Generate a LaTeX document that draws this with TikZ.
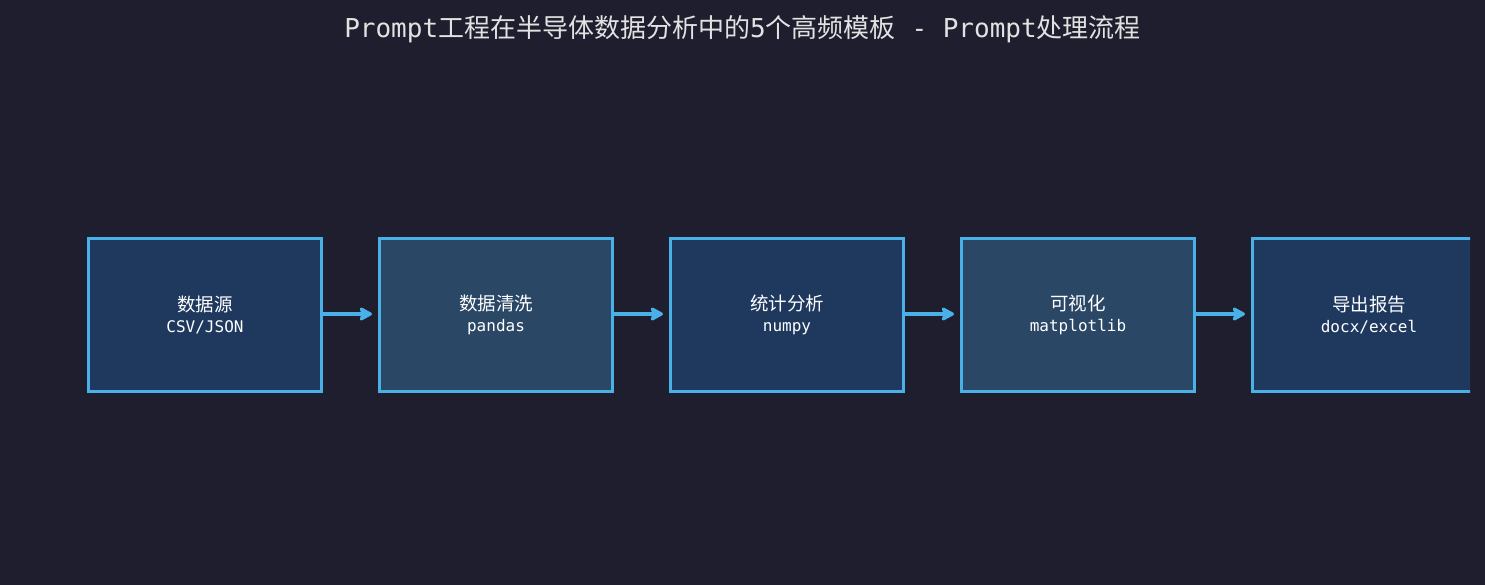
\documentclass[tikz,border=0pt]{standalone}
\usepackage{fontspec}
\setmainfont{DejaVu Sans Mono}
\newfontfamily\cjkfont{Noto Sans CJK SC}
\usetikzlibrary{arrows.meta}
\definecolor{bgc}{HTML}{1E1E2E}
\definecolor{boxa}{HTML}{1E385E}
\definecolor{boxb}{HTML}{2A4766}
\definecolor{edgec}{HTML}{4AB0E8}
\definecolor{titlec}{HTML}{E2E2E2}
\newcommand{\zh}[1]{{\cjkfont #1}}
\newcommand{\boxtext}[2]{{\cjkfont\fontsize{18.5}{21}\selectfont #1}\\{\fontsize{16}{21}\selectfont #2}}
\tikzset{
  stagebox/.style={draw=edgec, line width=3pt, minimum width=233pt, minimum height=153pt,
    align=center, text=white, font=\fontsize{16}{21}\selectfont, inner sep=0pt},
  darkbox/.style={stagebox, fill=boxa},
  lightbox/.style={stagebox, fill=boxb},
  flowarrow/.style={draw=edgec, line width=4pt, -{Stealth[length=15pt,width=16pt,inset=3pt,round]}, shorten >=6pt}
}
\begin{document}
\begin{tikzpicture}[x=1pt,y=-1pt]
\fill[bgc] (0,0) rectangle (1485,585);
\useasboundingbox (0,0) rectangle (1485,585);
\node[anchor=base, text=titlec, font=\fontsize{26}{30}\selectfont] (title) at (742.5,38)
  {Prompt\zh{工程在半导体数据分析中的}5\zh{个高频模板} - Prompt\zh{处理流程}};
\begin{scope}
\clip (0,0) rectangle (1470,585);
\node[darkbox]  (s1) at (205,315)  {\boxtext{数据源}{CSV/JSON}};
\node[lightbox] (s2) at (496,315)  {\boxtext{数据清洗}{pandas}};
\node[darkbox]  (s3) at (787,315)  {\boxtext{统计分析}{numpy}};
\node[lightbox] (s4) at (1078,315) {\boxtext{可视化}{matplotlib}};
\node[darkbox]  (s5) at (1369,315) {\boxtext{导出报告}{docx/excel}};
\draw[flowarrow] ([yshift=1pt]s1.east) -- ([yshift=1pt]s2.west);
\draw[flowarrow] ([yshift=1pt]s2.east) -- ([yshift=1pt]s3.west);
\draw[flowarrow] ([yshift=1pt]s3.east) -- ([yshift=1pt]s4.west);
\draw[flowarrow] ([yshift=1pt]s4.east) -- ([yshift=1pt]s5.west);
\end{scope}
\end{tikzpicture}
\end{document}
